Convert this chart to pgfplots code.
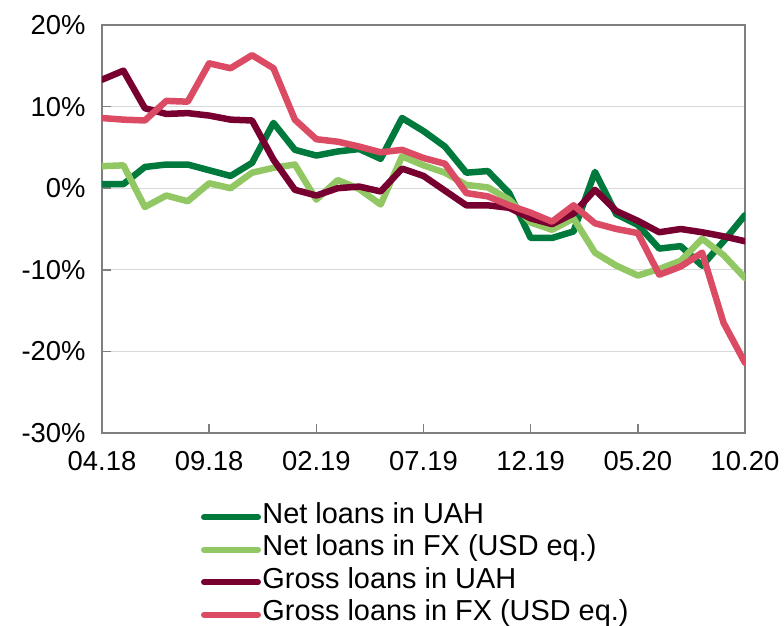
\documentclass[border=0pt]{standalone}
\usepackage{fontspec}
\setmainfont{Liberation Sans}
\usepackage{pgfplots}
\pgfplotsset{compat=1.18}
\usepackage{pgfplotstable}

\definecolor{netuah}{HTML}{007A3C}
\definecolor{netfx}{HTML}{92C863}
\definecolor{grossuah}{HTML}{780030}
\definecolor{grossfx}{HTML}{DB4B64}
\definecolor{framegray}{HTML}{7F7F7F}
\definecolor{gridgray}{HTML}{D9D9D9}

% month index (0 = 04.18 ... 30 = 10.20), annual growth rates in %
\pgfplotstableread{
m  netuah  netfx  grossuah  grossfx
0   0.5    2.7    13.3     8.6
1   0.5    2.8    14.4     8.4
2   2.6   -2.3     9.8     8.3
3   2.9   -0.9     9.1    10.7
4   2.9   -1.6     9.2    10.6
5   2.2    0.6     8.9    15.3
6   1.5    0.0     8.4    14.7
7   3.1    1.9     8.3    16.3
8   8.0    2.5     3.5    14.7
9   4.7    2.9    -0.2     8.4
10  4.0   -1.4    -0.9     6.0
11  4.5    1.0     0.0     5.7
12  4.8   -0.1     0.2     5.1
13  3.6   -2.0    -0.4     4.4
14  8.6    3.9     2.4     4.7
15  7.0    2.8     1.5     3.7
16  5.1    1.9    -0.3     3.0
17  1.9    0.4    -2.1    -0.6
18  2.1    0.1    -2.1    -1.0
19 -0.6   -1.4    -2.4    -2.1
20 -6.1   -4.2    -3.7    -3.0
21 -6.1   -5.1    -4.4    -4.1
22 -5.3   -3.7    -3.1    -2.1
23  2.0   -7.9    -0.2    -4.3
24 -3.2   -9.5    -2.8    -5.0
25 -4.5  -10.7    -4.0    -5.5
26 -7.4   -9.9    -5.4   -10.6
27 -7.1   -8.9    -5.0    -9.6
28 -9.5   -6.2    -5.4    -7.9
29 -6.5   -8.2    -5.9   -16.5
30 -3.3  -11.0    -6.5   -21.4
}\loans

\begin{document}
\begin{tikzpicture}
\begin{axis}[
  name=ax,
  scale only axis,
  width=643bp, height=408bp,
  xmin=0, xmax=30, ymin=-30, ymax=20,
  xtick={0,5,...,30},
  xticklabels={04.18,09.18,02.19,07.19,12.19,05.20,10.20},
  ytick={-30,-20,...,20},
  yticklabels={-30\%,-20\%,-10\%,0\%,10\%,20\%},
  tick align=inside,
  major tick length=9bp,
  tick style={framegray, line width=1.5bp},
  xtick pos=bottom, ytick pos=left,
  axis line style={framegray, line width=1.8bp},
  ymajorgrids,
  grid style={gridgray, line width=1.3bp},
  ticklabel style={font=\fontsize{27.5}{31}\selectfont, text=black},
  xticklabel style={yshift=-15bp},
  yticklabel style={xshift=-13bp},
  every axis plot/.append style={line width=6.5bp, line join=round, line cap=round},
  legend image code/.code={\draw[#1, line width=6bp, line cap=round] (0bp,0bp) -- (54bp,0bp);},
  legend cell align=left,
  legend style={
    at={(0.149,-0.161)}, anchor=north west,
    draw=none, fill=none,
    font=\fontsize{29}{33}\selectfont,
    nodes={inner sep=1.5bp, text height=21bp, text depth=8.5bp},
    row sep=0bp,
  },
]
\addplot[netuah]   table[x=m, y=netuah]   {\loans};
\addlegendentry{Net loans in UAH}
\addplot[netfx]    table[x=m, y=netfx]    {\loans};
\addlegendentry{Net loans in FX (USD eq.)}
\addplot[grossuah] table[x=m, y=grossuah] {\loans};
\addlegendentry{Gross loans in UAH}
\addplot[grossfx]  table[x=m, y=grossfx]  {\loans};
\addlegendentry{Gross loans in FX (USD eq.)}
\end{axis}
\pgfresetboundingbox
\path ([shift={(-102bp,-193bp)}]ax.south west) rectangle ([shift={(39bp,25bp)}]ax.north east);
\end{tikzpicture}
\end{document}
